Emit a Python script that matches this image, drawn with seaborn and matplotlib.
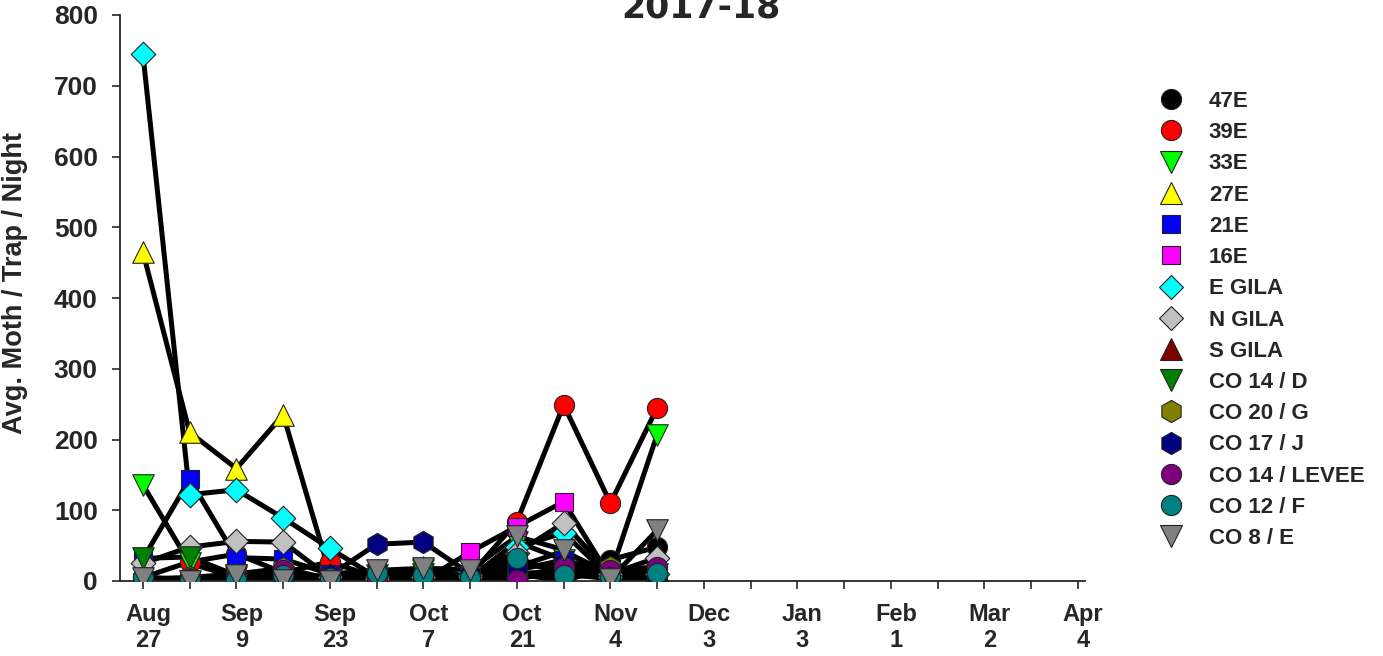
import matplotlib
matplotlib.use("Agg")
import matplotlib.pyplot as plt
from matplotlib.lines import Line2D
from matplotlib.transforms import ScaledTranslation
import seaborn as sns
import pandas as pd

# visitas (indice de semana) e rotulos do eixo x
visit_idx = list(range(12))
tick_pos = list(range(0, 21, 2))
tick_labels = ["Aug\n27", "Sep\n9", "Sep\n23", "Oct\n7", "Oct\n21", "Nov\n4",
               "Dec\n3", "Jan\n3", "Feb\n1", "Mar\n2", "Apr\n4"]

sites = ["47E", "39E", "33E", "27E", "21E", "16E", "E GILA", "N GILA", "S GILA",
         "CO 14 / D", "CO 20 / G", "CO 17 / J", "CO 14 / LEVEE", "CO 12 / F", "CO 8 / E"]

v_47e = [0, 2, 3, 1, 2, 3, 5, 3, 10, 15, 30, 48]
v_39e = [5, 27, 38, 12, 27, 5, 3, 8, 84, 249, 110, 245]
v_33e = [136, 25, 5, 5, 3, 8, 15, 5, 55, 30, 10, 207]
v_27e = [465, 210, 159, 235, 10, 3, 20, 5, 20, 42, 10, 15]
v_21e = [31, 144, 33, 31, 10, 15, 5, 3, 15, 30, 0, 5]
v_16e = [2, 3, 5, 3, 2, 2, 0, 41, 77, 112, 5, 3]
v_egila = [745, 122, 129, 89, 46, 5, 5, 8, 48, 68, 5, 10]
v_ngila = [25, 48, 56, 55, 5, 3, 5, 5, 40, 82, 10, 33]
v_sgila = [2, 1, 3, 2, 1, 2, 3, 2, 5, 10, 3, 5]
v_co14d = [32, 34, 8, 5, 3, 3, 10, 5, 25, 15, 5, 10]
v_co20g = [3, 5, 10, 18, 3, 2, 5, 3, 10, 0, 20, 5]
v_co17j = [2, 3, 5, 5, 8, 52, 55, 10, 20, 25, 0, 8]
v_co14lev = [0, 3, 5, 15, 2, 0, 2, 3, 1, 20, 15, 20]
v_co12f = [6, 1, 1, 8, 4, 11, 8, 4, 33, 8, 6, 11]
v_co8e = [4, 0, 8, 1, 0, 15, 18, 16, 63, 44, 3, 72]

values = [v_47e, v_39e, v_33e, v_27e, v_21e, v_16e, v_egila, v_ngila, v_sgila,
          v_co14d, v_co20g, v_co17j, v_co14lev, v_co12f, v_co8e]
markers = ["o", "o", "v", "^", "s", "s", "D", "D", "^", "v", "h", "h", "o", "o", "v"]
colors = ["#000000", "#ff0000", "#00ff00", "#ffff00", "#0000ff", "#ff00ff", "#00ffff",
          "#c0c0c0", "#800000", "#008000", "#808000", "#000080", "#800080", "#008080", "#808080"]

# tamanho (pt) de cada simbolo para parecer igual ao original
msize = {"o": 14.5, "v": 15.5, "^": 15.5, "s": 13.5, "D": 12.5, "h": 16.0}

df = pd.DataFrame({
    "visit": visit_idx * len(sites),
    "site": [s for s in sites for _ in visit_idx],
    "moth": [v for vals in values for v in vals],
})

sns.set_style("ticks")
plt.rcParams["font.family"] = ["Liberation Sans", "DejaVu Sans"]
plt.rcParams["font.weight"] = "bold"

fig = plt.figure(figsize=(13.83, 6.56), dpi=100)
ax = fig.add_axes([120 / 1383, 1 - 581 / 656, (1085 - 120) / 1383, (581 - 15) / 656])

# linhas pretas de todas as armadilhas
sns.lineplot(data=df, x="visit", y="moth", hue="site", hue_order=sites,
             palette=["black"] * len(sites), estimator=None, sort=False,
             linewidth=3.6, legend=False, ax=ax, zorder=2)

for site, m, c in zip(sites, markers, colors):
    sub = df[df["site"] == site]
    sns.scatterplot(data=sub, x="visit", y="moth", marker=m, color=c, s=msize[m] ** 2,
                    edgecolor="#222222", linewidth=0.8, ax=ax, zorder=3, legend=False)

ax.set_xlim(-0.49, 20.15)
ax.set_ylim(0, 800)
ax.set_yticks(range(0, 801, 100))
ax.set_xticks(tick_pos)
ax.set_xticklabels(tick_labels, linespacing=1.15)
ax.set_xticks(range(1, 20, 2), minor=True)
ax.tick_params(axis="y", direction="out", length=6, width=1.2, pad=10, labelsize=19)
ax.tick_params(axis="x", which="both", direction="out", length=6, width=1.2, pad=10, labelsize=17)
shift = ScaledTranslation(5 / 100, 0, fig.dpi_scale_trans)
for lab in ax.get_xticklabels():
    lab.set_fontweight("bold")
    lab.set_transform(lab.get_transform() + shift)
for lab in ax.get_yticklabels():
    lab.set_fontweight("bold")
sns.despine(ax=ax)
for sp in ["left", "bottom"]:
    ax.spines[sp].set_linewidth(1.3)

ax.set_xlabel("")
ax.set_ylabel("Avg. Moth / Trap / Night", fontsize=19.5, fontweight="bold")
ax.yaxis.set_label_coords(-0.095, 0.527)

fig.text(701 / 1383, 1 - 17 / 656, "2017-18", ha="center", va="baseline",
         fontsize=25, fontweight="bold", family="DejaVu Sans")

handles = [Line2D([], [], linestyle="none", marker=m, markersize=msize[m], markerfacecolor=c,
                  markeredgecolor="#222222", markeredgewidth=0.8)
           for m, c in zip(markers, colors)]
fig.legend(handles, sites, loc="upper left", bbox_to_anchor=(1160 / 1383, 1 - 91 / 656),
           frameon=False, handlelength=1.0, handletextpad=1.2,
           labelspacing=0.46, borderpad=0, borderaxespad=0,
           prop={"weight": "bold", "size": 16})

fig.savefig("out.png", dpi=100)
